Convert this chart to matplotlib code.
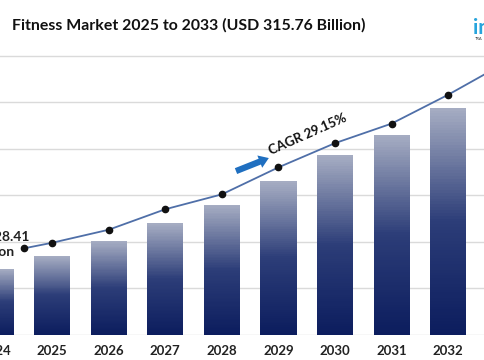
import numpy as np
import matplotlib.pyplot as plt
from matplotlib.colors import LinearSegmentedColormap

# data (arbitrary units, gridline step = 50)
years = [2024, 2025, 2026, 2027, 2028, 2029, 2030, 2031, 2032, 2033]
bar_values = [71, 85, 101, 120, 140, 165, 193, 215, 244, 275]
line_years = [2024.5, 2025, 2026, 2027, 2028, 2029, 2030, 2031, 2032, 2033]
line_values = [93, 99, 113, 135, 151, 180, 206, 227, 258, 292]
tick_labels = [str(y) for y in years]

plt.rcParams['font.family'] = ['Lato', 'DejaVu Sans']

xmin, xmax = 2024.08, 2032.65

fig = plt.figure(figsize=(4.85, 3.6), dpi=100)
ax = fig.add_axes([0, 25 / 360, 1, (335 - 50) / 360])

# grid
for gy in range(0, 301, 50):
    ax.axhline(gy, color='#dadada', lw=1, zorder=0)

# gradient bars: stack thin slices, light at the top, navy at the bottom
cmap = LinearSegmentedColormap.from_list('barfade', ['#0c1d5e', '#2c3d78', '#a5acc2'])
vals = np.array(bar_values, dtype=float)
n = 80
for i in range(n):
    ax.bar(years, vals / n * 1.05, bottom=vals * i / n, width=0.64,
           color=cmap(i / (n - 1)), linewidth=0, zorder=1)

# trend line
ax.plot(line_years, line_values, color='#4f6fa8', lw=1.3, zorder=3,
        marker='o', markersize=4.5, markerfacecolor='#111111', markeredgecolor='#111111')

# labels
ax.text(2024.0, 97, 'USD 28.41\nBillion', ha='center', va='center', fontsize=10,
        fontweight='bold', color='#222222', linespacing=1.25)
ax.text(2029.52, 216, 'CAGR 29.15%', ha='center', va='center', fontsize=9.5,
        fontweight='bold', color='#111111', rotation=24, rotation_mode='anchor')
ax.annotate('', xy=(2028.83, 190), xytext=(2028.25, 176),
            arrowprops=dict(arrowstyle='simple,head_width=0.95,head_length=0.7,tail_width=0.45',
                            color='#1f6fc0', lw=0, shrinkA=0, shrinkB=0))

# category labels (drawn as text so the half-cut 2024 one stays visible)
for x, lab in zip(years, tick_labels):
    if x > xmax:
        continue
    ax.text(x, -0.035, lab, transform=ax.get_xaxis_transform(), ha='center', va='top',
            fontsize=9.5, fontweight='bold', color='#222222', clip_on=False)
ax.set_xticks([])
ax.set_yticks([])
for s in ax.spines.values():
    s.set_visible(False)

ax.set_xlim(xmin, xmax)
ax.set_ylim(0, 306)

fig.text(12 / 485, 1 - 25 / 360, 'Fitness Market 2025 to 2033 (USD 315.76 Billion)',
         fontsize=11.4, fontweight='bold', color='#111111', va='center', ha='left')

# logo fragment
fig.text(0.975, 1 - 28 / 360, 'in', fontsize=15, fontweight='bold', color='#27a4dc',
         va='center', ha='left')
fig.text(0.98, 1 - 39 / 360, 'TRA', fontsize=3, color='#333333', va='center', ha='left')

fig.savefig('out.png', dpi=100)
